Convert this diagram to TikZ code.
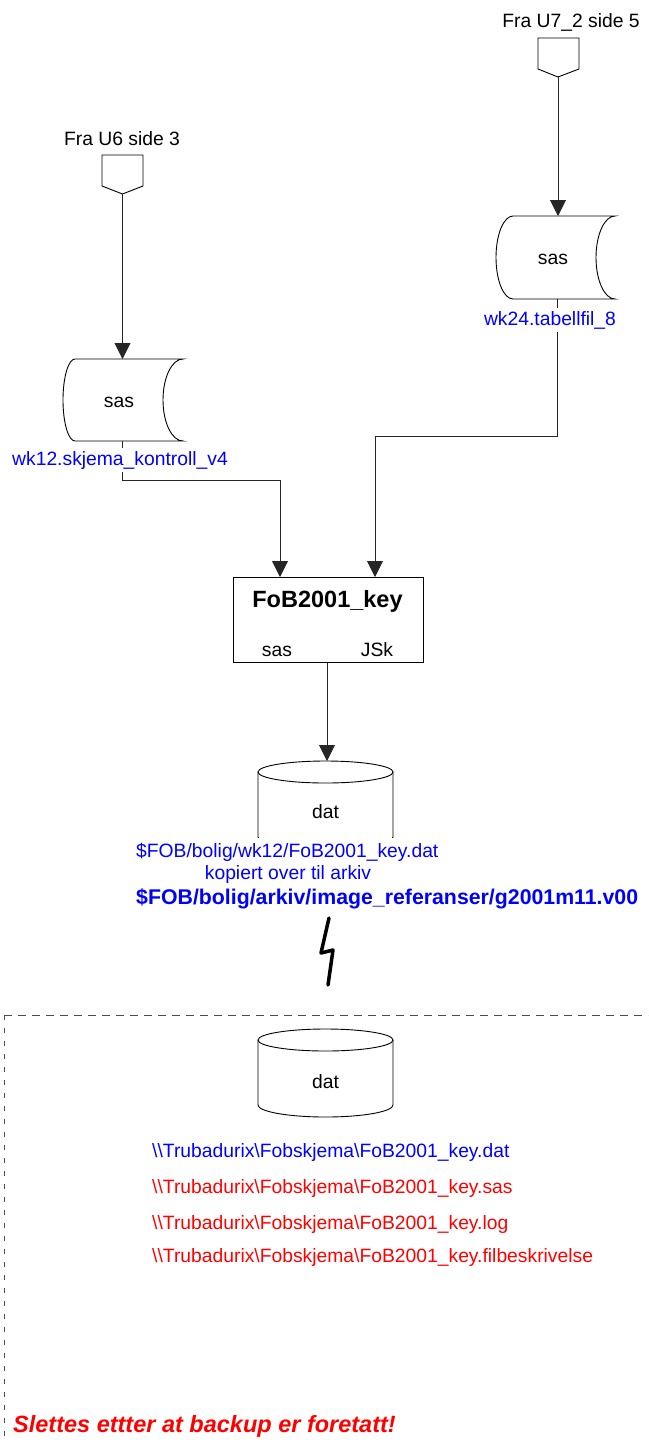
\documentclass[tikz,border=0pt]{standalone}
\usepackage{fontspec}
\setmainfont{Liberation Sans}
\usetikzlibrary{arrows.meta}
\definecolor{fblue}{RGB}{0,0,255}
\definecolor{fred}{RGB}{255,0,0}
\begin{document}
\begin{tikzpicture}[x=1pt,y=1pt,
  ln/.style={line width=0.9pt, draw=black!85},
  arr/.style={ln, -{Triangle[width=16pt,length=16pt]}},
  shp/.style={line width=0.9pt, draw=black},
  txt/.style={font=\fontsize{19.3}{22}\selectfont, inner sep=0pt},
  btxt/.style={font=\fontsize{21.3}{24}\selectfont\bfseries, inner sep=0pt},
  ttl/.style={font=\fontsize{23.5}{26}\selectfont\bfseries, inner sep=0pt},
  dashh/.style={draw=black!70, line width=0.9pt, dash pattern=on 8pt off 6pt},
  dashv/.style={draw=black!70, line width=0.9pt, dash pattern=on 5pt off 8pt},
  bolt/.style={line width=3.5pt, line cap=round, line join=round},
]
\useasboundingbox (0,0) rectangle (648,-1443);

% ---- off-page connectors ----
\node[txt, anchor=base] (fra2) at (571,-27) {Fra U7\_2 side 5};
\draw[shp] (538,-38) -- (579,-38) -- (579,-69) -- (558,-77) -- (538,-69) -- cycle;
\coordinate (p2tip) at (558,-77);

\node[txt, anchor=base] (fra1) at (122,-145) {Fra U6 side 3};
\draw[shp] (102,-155) -- (143,-155) -- (143,-186) -- (122.5,-194) -- (102,-186) -- cycle;
\coordinate (p1tip) at (122.5,-194);

% ---- stored data shapes ----
\draw[shp] (513,-216) -- (615,-216) arc[start angle=90,end angle=270,x radius=19,y radius=41.5]
  -- (513,-299) arc[start angle=270,end angle=90,x radius=17,y radius=41.5] -- cycle;
\node[txt, anchor=base] (sas2) at (553,-264) {sas};
\coordinate (s2top) at (558,-216);
\coordinate (s2bot) at (557,-299);

\draw[shp] (75,-359) -- (183,-359) arc[start angle=90,end angle=270,x radius=20,y radius=41]
  -- (75,-441) arc[start angle=270,end angle=90,x radius=12,y radius=41] -- cycle;
\node[txt, anchor=base] (sas1) at (119,-407) {sas};
\coordinate (s1top) at (122.5,-359);
\coordinate (s1bot) at (122.5,-441);

% ---- process box ----
\node[shp, draw, minimum width=190pt, minimum height=85pt, anchor=north west, inner sep=0pt] (box) at (233,-577) {};
\node[ttl, anchor=base] (boxttl) at (327.5,-607) {FoB2001\_key};
\node[txt, anchor=base] (boxsas) at (277,-656) {sas};
\node[txt, anchor=base] (boxjsk) at (377,-656) {JSk};
\coordinate (b1in) at (280,-577);
\coordinate (b2in) at (375,-577);

% ---- connectors to box ----
\draw[arr] (p2tip) -- (s2top);
\draw[arr] (p1tip) -- (s1top);
\coordinate (k2) at (557,-436);
\coordinate (k1) at (122.5,-480);
\draw[arr] (s2bot) -- (k2) -| (b2in);
\draw[arr] (s1bot) -- (k1) -| (b1in);

\node[txt, anchor=base, text=fblue, fill=white, inner xsep=2pt, inner ysep=3pt] (lab2) at (550,-325) {wk24.tabellfil\_8};
\node[txt, anchor=base, text=fblue, fill=white, inner xsep=2pt, inner ysep=3pt] (lab1) at (120,-465) {wk12.skjema\_kontroll\_v4};

% ---- first cylinder ----
\draw[shp, fill=white] (258,-772) -- (258,-837) arc[start angle=180,end angle=360,x radius=67.5,y radius=11] -- (393,-772);
\draw[shp] (325.5,-772) ellipse[x radius=67.5,y radius=11];
\node[txt, anchor=base] (dat1) at (325.5,-818) {dat};
\coordinate (c1top) at (327,-761);
\draw[arr] (box.south -| c1top) -- (c1top);

\node[txt, anchor=base west, text=fblue, fill=white, inner xsep=2pt, inner ysep=5pt] (path1) at (134,-857) {\$FOB/bolig/wk12/FoB2001\_key.dat};
\node[txt, anchor=base, text=fblue] (kop) at (288,-879) {kopiert over til arkiv};
\node[btxt, anchor=base west, text=fblue] (path2) at (136,-904) {\$FOB/bolig/arkiv/image\_referanser/g2001m11.v00};

% ---- lightning ----
\coordinate (lz1) at (329,-918);
\coordinate (lz2) at (321,-953);
\coordinate (lz3) at (333,-950);
\coordinate (lz4) at (328,-985);
\draw[bolt] (lz1) -- (lz2) -- (lz3) -- (lz4);

% ---- dashed region ----
\coordinate (dcorner) at (4,-1015);
\coordinate (dright) at (648,-1015);
\coordinate (dbottom) at (4,-1443);
\draw[dashh] (dcorner) -- (dright);
\draw[dashv] (dcorner) -- (dbottom);

% ---- second cylinder ----
\draw[shp] (258,-1040) -- (258,-1105) arc[start angle=180,end angle=360,x radius=67.5,y radius=12] -- (393,-1040);
\draw[shp] (325.5,-1040) ellipse[x radius=67.5,y radius=11];
\node[txt, anchor=base] (dat2) at (325.5,-1088) {dat};

\node[txt, anchor=base west, text=fblue] (tr1) at (152,-1157) {\textbackslash\textbackslash Trubadurix\textbackslash Fobskjema\textbackslash FoB2001\_key.dat};
\node[txt, anchor=base west, text=fred] (tr2) at (152,-1193) {\textbackslash\textbackslash Trubadurix\textbackslash Fobskjema\textbackslash FoB2001\_key.sas};
\node[txt, anchor=base west, text=fred] (tr3) at (152,-1229) {\textbackslash\textbackslash Trubadurix\textbackslash Fobskjema\textbackslash FoB2001\_key.log};
\node[txt, anchor=base west, text=fred] (tr4) at (152,-1262) {\textbackslash\textbackslash Trubadurix\textbackslash Fobskjema\textbackslash FoB2001\_key.filbeskrivelse};

\node[ttl, anchor=base west, text=fred, font=\fontsize{23.5}{26}\selectfont\bfseries\itshape] (slett) at (13,-1432) {Slettes ettter at backup er foretatt!};
\end{tikzpicture}
\end{document}
